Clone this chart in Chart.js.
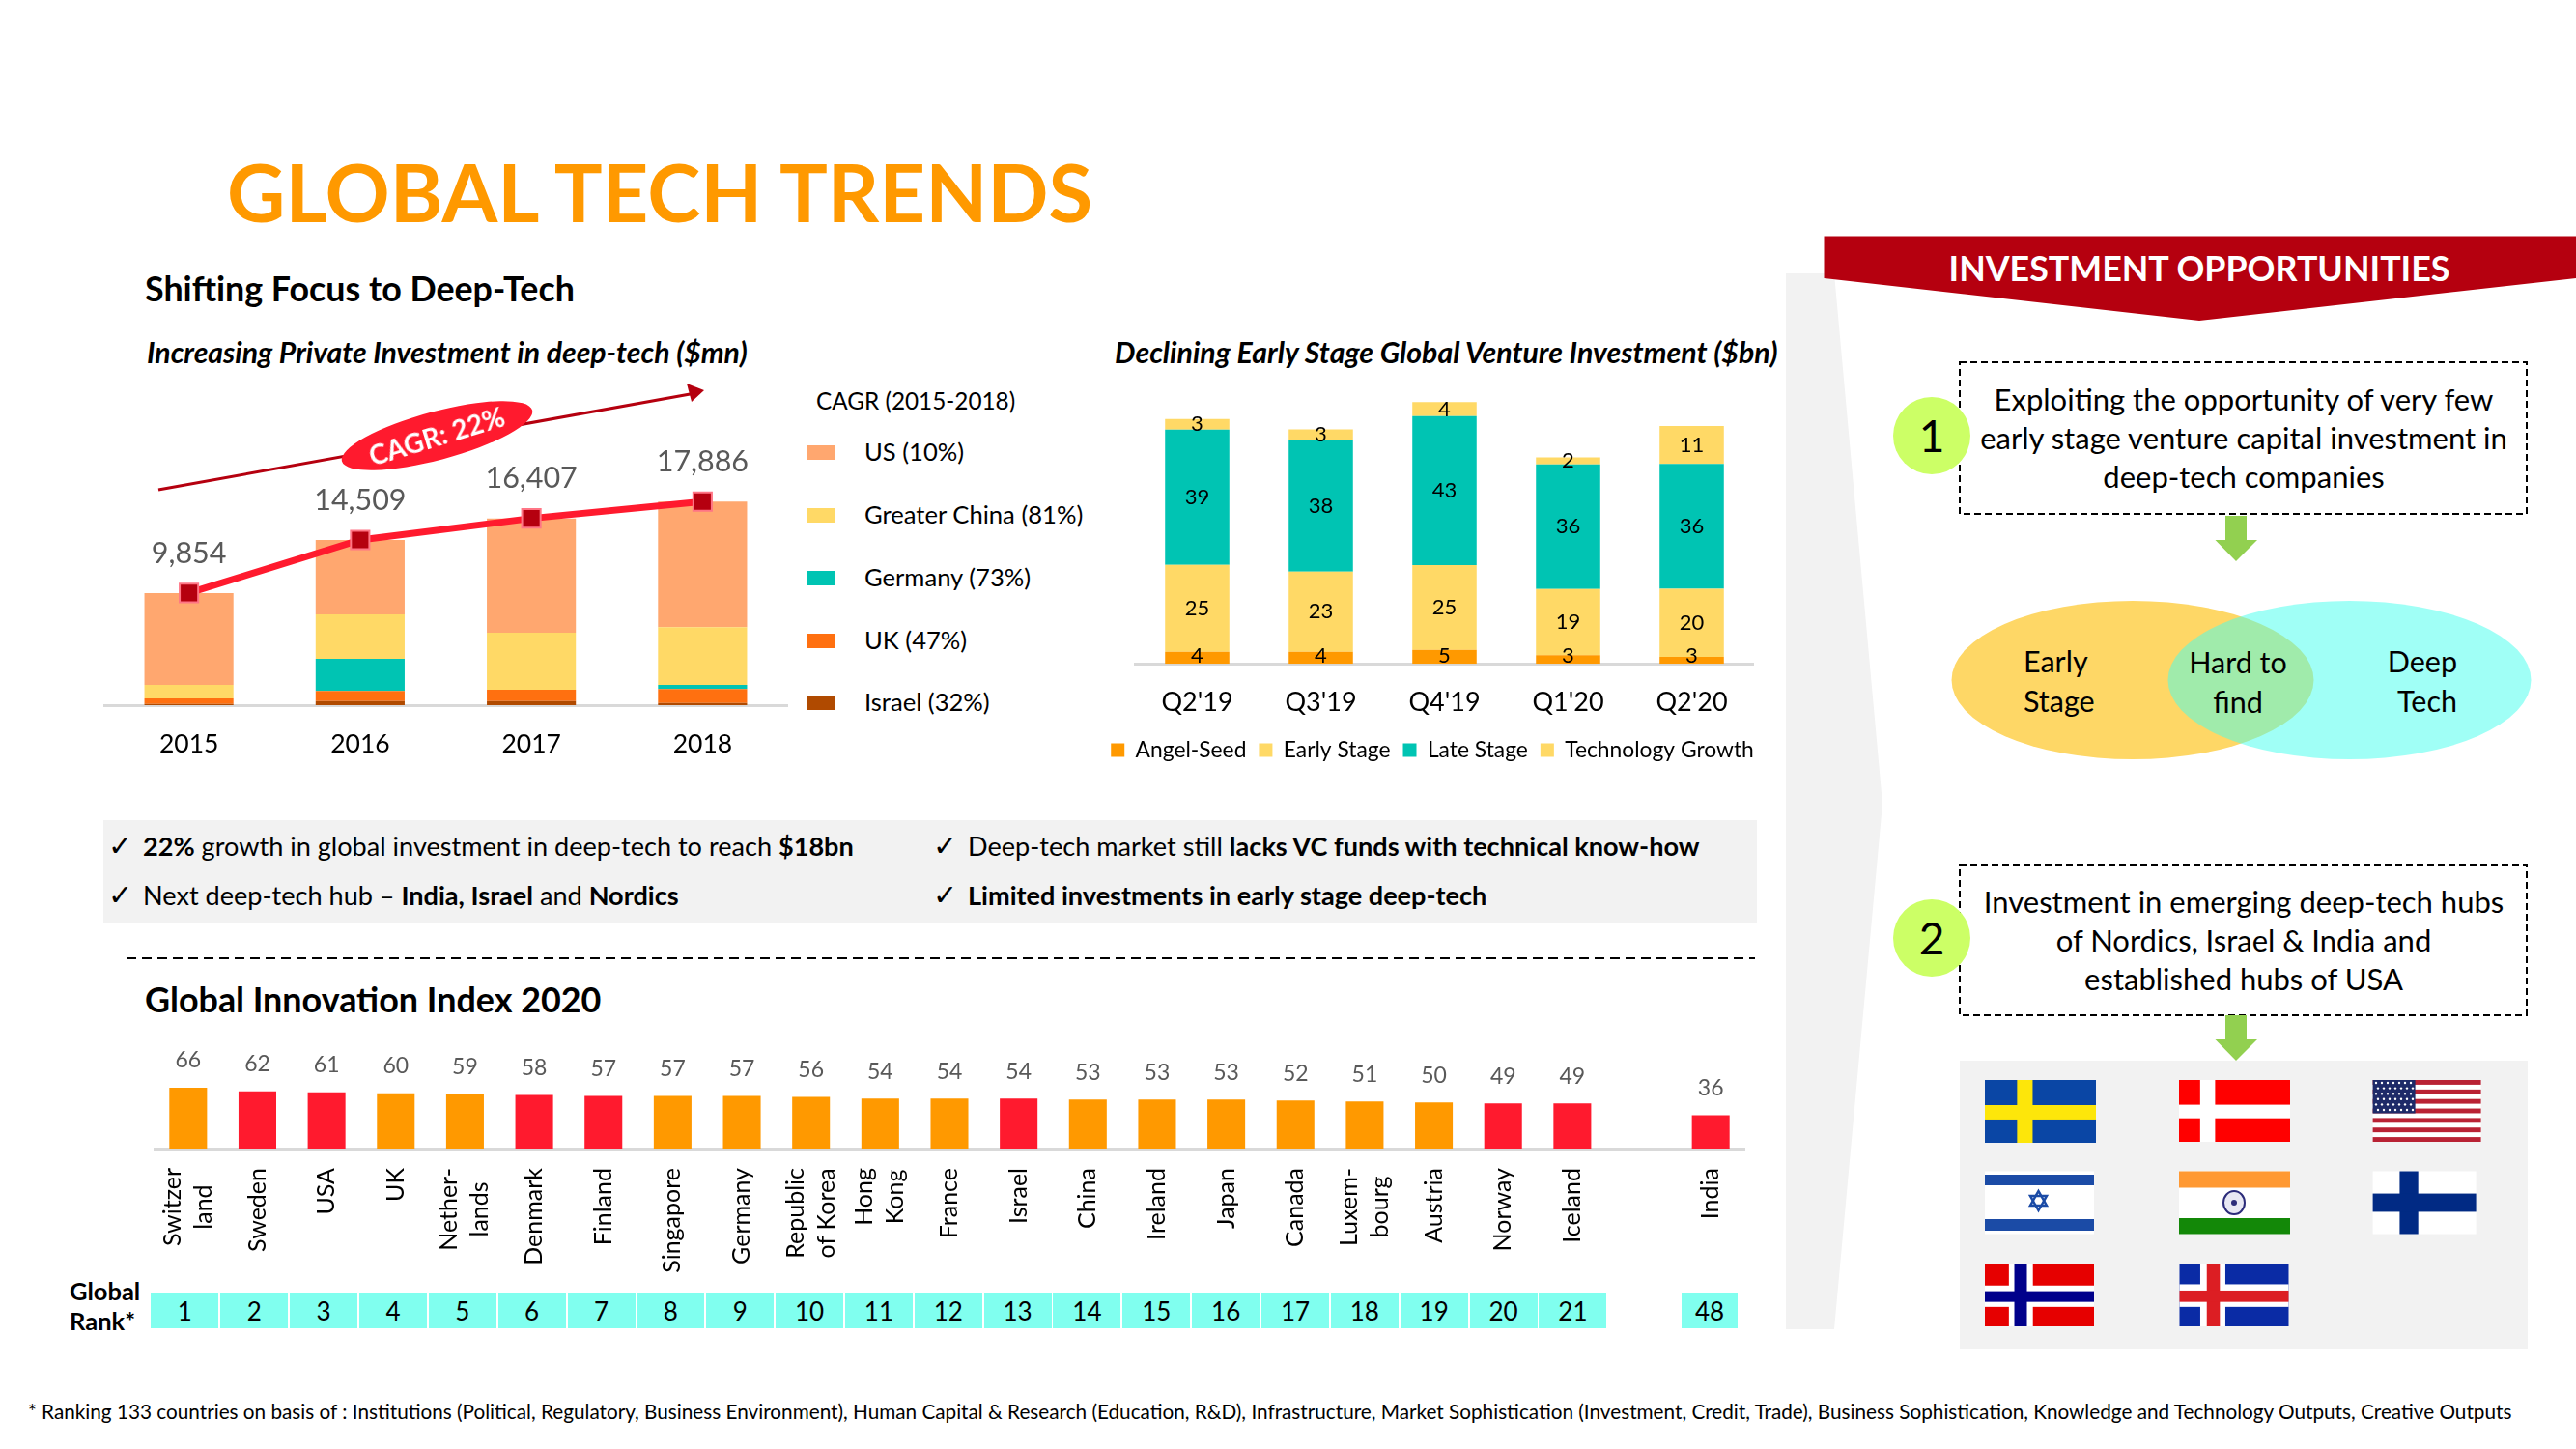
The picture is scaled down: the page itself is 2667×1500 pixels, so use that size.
<!DOCTYPE html>
<html><head><meta charset="utf-8">
<script src="https://cdn.jsdelivr.net/npm/chart.js@4"></script>
<style>
html,body{margin:0;padding:0;background:#fff;}
#page{position:relative;width:2667px;height:1500px;overflow:hidden;font-family:Lato,"Open Sans",sans-serif;color:#000;}
#page svg{position:absolute;left:0;top:0;}
canvas{position:absolute;}
.t{position:absolute;white-space:nowrap;line-height:1;}
</style></head><body><div id="page">
<svg id="deco" width="2667" height="1500"></svg>
<canvas id="c1" width="709" height="400" style="left:107px;top:400px"></canvas>
<canvas id="c2" width="720" height="403" style="left:1122.5px;top:395px"></canvas>
<canvas id="c3" width="1648" height="250" style="left:159px;top:1080px"></canvas>
</div>
<script>
// ---- data ----
const years = ['2015','2016','2017','2018'];
const israel = [113,368,368,198];
const uk = [480,877,990,1216];
const germany = [0,2828,0,368];
const greaterChina = [1190,3903,5006,5062];
const us = [8070,6533,10043,11042];
const totals = [9854,14509,16407,17886];
const cagrLegend = ['US (10%)','Greater China (81%)','Germany (73%)','UK (47%)','Israel (32%)'];

const quarters = ["Q2'19","Q3'19","Q4'19","Q1'20","Q2'20"];
const angelSeed = [3.5,3.5,4,2.5,2];
const earlyStage = [25.1,23.1,24.5,19.1,19.7];
const lateStage = [39,38,43,36,36];
const techGrowth = [3.1,3.1,4.1,2,11];
const angelLabels = [4,4,5,3,3];
const earlyLabels = [25,23,25,19,20];
const lateLabels = [39,38,43,36,36];
const techLabels = [3,3,4,2,11];

const countries = [['Switzer','land'],'Sweden','USA','UK',['Nether-','lands'],'Denmark','Finland','Singapore','Germany',['Republic','of Korea'],['Hong','Kong'],'France','Israel','China','Ireland','Japan','Canada',['Luxem-','bourg'],'Austria','Norway','Iceland','','India'];
const giiScores = [66,62,61,60,59,58,57,57,57,56,54,54,54,53,53,53,52,51,50,49,49,null,36];
const globalRanks = [1,2,3,4,5,6,7,8,9,10,11,12,13,14,15,16,17,18,19,20,21];
const indiaRank = 48;
const hubCountries = ['Sweden','USA','Denmark','Finland','Israel','Norway','Iceland','India'];

// ---- palette ----
const ORANGE='#FF9900', RED='#FF1A2E', DARKRED='#B5000F', GREY='#595959', AXIS='#D9D9D9', TEAL='#00C4B3', YELLOW='#FFD966';
const cagrColors = ['#FFA76F',YELLOW,TEAL,'#FF7010','#B04A00'];

Chart.defaults.font.family = 'Lato, "Open Sans", sans-serif';
Chart.defaults.color = '#000';

const valueLabels = {
  id:'valueLabels',
  afterDatasetsDraw(chart){
    const ctx = chart.ctx, base = chart.chartArea.bottom;
    chart.data.datasets.forEach((ds,di)=>{
      const vl = ds.valueLabels; if(!vl) return;
      const meta = chart.getDatasetMeta(di);
      ctx.save();
      ctx.font = vl.font; ctx.fillStyle = vl.color; ctx.textAlign='center'; ctx.textBaseline='middle';
      meta.data.forEach((el,i)=>{
        if(ds.data[i]===null || ds.data[i]===undefined) return;
        const txt = vl.texts ? vl.texts[i] : ds.data[i].toLocaleString('en-US');
        let y;
        if(vl.mode==='center'){ y=(el.y+el.base)/2; if(vl.minLift) y=Math.min(y,base-vl.minLift); }
        else y = el.y - vl.offset;
        ctx.fillText(txt, el.x, y);
      });
      ctx.restore();
    });
  }
};
const centerTickLines = {
  id:'centerTickLines',
  beforeDraw(chart){
    const s = chart.scales.x, ctx = chart.ctx;
    const lh = 32;
    ctx.save(); ctx.font = `${s.options.ticks.font.size}px Lato`;
    s.getLabelItems().forEach(it=>{
      if(!Array.isArray(it.label) || it._done) return;
      const w = Math.max(...it.label.map(l=>ctx.measureText(l).width));
      it.options.textAlign='center';
      it.options.textBaseline='middle';
      it.options.translation = [s.getPixelForTick(s.ticks.findIndex(t=>t.label===it.label)), it.options.translation[1]+w/2];
      it.textOffset = -(it.label.length-1)*lh/2;
      it.font = Object.assign({},it.font,{lineHeight:lh});
      it._done = true;
    });
    ctx.restore();
  }
};
const base = {responsive:false,devicePixelRatio:1,animation:false,plugins:{legend:{display:false},tooltip:{enabled:false}}};
const fixX = h => s => { s.height=h; s.paddingLeft=0; s.paddingRight=0; };

// Chart 1
const barOpts = {barPercentage:.52,categoryPercentage:1,order:2,stack:'a'};
new Chart(document.getElementById('c1'),{
  type:'bar',
  data:{labels:years,datasets:[
    {label:'Israel',data:israel,backgroundColor:cagrColors[4],...barOpts},
    {label:'UK',data:uk,backgroundColor:cagrColors[3],...barOpts},
    {label:'Germany',data:germany,backgroundColor:cagrColors[2],...barOpts},
    {label:'Greater China',data:greaterChina,backgroundColor:cagrColors[1],...barOpts},
    {label:'US',data:us,backgroundColor:cagrColors[0],...barOpts},
    {type:'line',label:'Total',data:totals,order:1,borderColor:RED,borderWidth:7,pointStyle:'rect',pointRadius:13.5,
     pointBackgroundColor:DARKRED,pointBorderColor:'#FF7585',pointBorderWidth:2,tension:0,
     valueLabels:{offset:41,font:'30.5px Lato',color:GREY}}
  ]},
  options:{...base,layout:{padding:0,autoPadding:false},
    scales:{
      x:{stacked:true,grid:{display:false},border:{color:AXIS,width:3},afterFit:fixX(70),
         ticks:{font:{size:26.5},padding:17,color:'#000',maxRotation:0}},
      y:{stacked:true,display:false,min:0,max:28000}
    }},
  plugins:[valueLabels]
});

// Chart 2
const b2 = {barPercentage:.52,categoryPercentage:1};
const lbl2 = (texts,minLift)=>({mode:'center',texts,minLift,font:'22px Lato',color:'#000'});
const blankAxis = w => ({display:true,min:0,max:81.5,ticks:{display:false},grid:{display:false},border:{display:false},afterFit:s=>{s.width=w;}});
new Chart(document.getElementById('c2'),{
  type:'bar',
  data:{labels:quarters,datasets:[
    {label:'Angel-Seed',data:angelSeed,backgroundColor:ORANGE,...b2,valueLabels:lbl2(angelLabels,8)},
    {label:'Early Stage',data:earlyStage,backgroundColor:YELLOW,...b2,valueLabels:lbl2(earlyLabels)},
    {label:'Late Stage',data:lateStage,backgroundColor:TEAL,...b2,valueLabels:lbl2(lateLabels)},
    {label:'Technology Growth',data:techGrowth,backgroundColor:YELLOW,...b2,valueLabels:lbl2(techLabels)}
  ]},
  options:{...base,layout:{padding:0,autoPadding:false},
    plugins:{tooltip:{enabled:false},legend:{display:true,position:'bottom',
      labels:{boxWidth:14,boxHeight:14,padding:13,font:{size:22.8},color:'#000'}}},
    scales:{
      x:{stacked:true,grid:{display:false},border:{color:AXIS,width:3},afterFit:fixX(65),
         ticks:{font:{size:27},padding:16,color:'#000',maxRotation:0}},
      y:{stacked:true,...blankAxis(52.5)},
      y1:{position:'right',...blankAxis(27.5)}
    }},
  plugins:[valueLabels]
});

// Chart 3
new Chart(document.getElementById('c3'),{
  type:'bar',
  data:{labels:countries,datasets:[{label:'Global Innovation Index 2020',data:giiScores,
    backgroundColor:c=>hubCountries.includes(countries[c.dataIndex])?RED:ORANGE,
    barPercentage:.545,categoryPercentage:1,
    valueLabels:{offset:28,font:'23px Lato',color:GREY}}]},
  options:{...base,layout:{padding:0,autoPadding:false},
    scales:{
      x:{grid:{display:false},border:{color:AXIS,width:3},afterFit:fixX(141),
         ticks:{autoSkip:false,minRotation:90,maxRotation:90,padding:12,font:{size:25},color:'#000'}},
      y:{display:false,min:0,max:114}
    }},
  plugins:[valueLabels,centerTickLines]
});

// ---- page furniture ----
const page = document.getElementById('page');
function T(html,x,y,o={}){
  const d=document.createElement('div'); d.className='t'; d.innerHTML=html;
  const a=o.align||'left';
  const tx=a==='center'?'-50%':a==='right'?'-100%':'0';
  d.style.cssText=`left:${x}px;top:${y}px;font-size:${o.size||26}px;font-weight:${o.weight||400};color:${o.color||'#000'};font-style:${o.italic?'italic':'normal'};transform:translate(${tx},-50%) ${o.rot?`rotate(${o.rot}deg)`:''};z-index:3;`;
  page.appendChild(d); return d;
}
T('GLOBAL TECH TRENDS',235,199,{size:83.2,weight:700,color:ORANGE});
T('Shifting Focus to Deep-Tech',150,299,{size:35.8,weight:700});
T('Increasing Private Investment in deep-tech ($mn)',152,363.5,{size:30.2,weight:700,italic:true});
T('Declining Early Stage Global Venture Investment ($bn)',1154,363.5,{size:30.3,weight:700,italic:true});
T('CAGR (2015-2018)',845,415,{size:24.3});
const legendY=[468,533,598,663,727];
cagrLegend.forEach((l,i)=>{
  const s=document.createElement('div');
  s.style.cssText=`position:absolute;left:835px;top:${legendY[i]-7}px;width:30px;height:15px;background:${cagrColors[i]}`;
  page.appendChild(s);
  T(l,895,legendY[i],{size:25.6});
});
T('CAGR: 22%',452,451,{size:28,weight:700,color:'#fff',rot:-17,align:'center'});

// bullets
[[112,148,876,'<b>22%</b> growth in global investment in deep-tech to reach <b>$18bn</b>'],
 [112,148,927,'Next deep-tech hub – <b>India, Israel</b> and <b>Nordics</b>'],
 [966,1002,876,'Deep-tech market still <b>lacks VC funds with technical know-how</b>'],
 [966,1002,927,'<b>Limited investments in early stage deep-tech</b>']
].forEach(r=>{T('✓',r[0],r[2]-2,{size:30});T(r[3],r[1],r[2],{size:27.1});});
T('Global Innovation Index 2020',150,1035,{size:35.9,weight:700});
T('Global',72,1337,{size:25.5,weight:700});
T('Rank*',72,1368,{size:25.5,weight:700});
const cell=(x,w,txt)=>{
  const d=document.createElement('div');
  d.style.cssText=`position:absolute;left:${x}px;top:1339px;width:${w}px;height:36px;line-height:36px;background:#80FFEF;text-align:center;font-size:26px;z-index:2`;
  d.textContent=txt; page.appendChild(d);
};
globalRanks.forEach((r,i)=>cell(156.4+71.85*i,70,r));
cell(1741,58,indiaRank);
T('* Ranking 133 countries on basis of : Institutions (Political, Regulatory, Business Environment), Human Capital &amp; Research (Education, R&amp;D), Infrastructure, Market Sophistication (Investment, Credit, Trade), Business Sophistication, Knowledge and Technology Outputs, Creative Outputs',29,1461,{size:20.72});

T('INVESTMENT OPPORTUNITIES',2277,278,{size:35.8,weight:700,color:'#fff',align:'center'});
[['Exploiting the opportunity of very few',412.5],['early stage venture capital investment in',452.5],['deep-tech companies',492.5],
 ['Investment in emerging deep-tech hubs',933],['of Nordics, Israel &amp; India and',973],['established hubs of USA',1013]
].forEach(r=>T(r[0],2323,r[1],{size:31,align:'center'}));
T('1',2000,451,{size:46,align:'center'});
T('2',2000,971,{size:46,align:'center'});
T('Early',2095,684,{size:30.5});T('Stage',2095,725,{size:30.5});
T('Hard to',2317,685,{size:30.5,align:'center'});T('find',2317,726,{size:30.5,align:'center'});
T('Deep',2544,684,{size:30.5,align:'right'});T('Tech',2544,725,{size:30.5,align:'right'});

// ---- svg shapes ----
let s='';
s+=`<rect x="107" y="849" width="1712" height="107" fill="#F2F2F2"/>`;
s+=`<line x1="131" y1="992" x2="1817" y2="992" stroke="#000" stroke-width="2" stroke-dasharray="10 6"/>`;
s+=`<polygon points="1849,283 1899,283 1949,832 1899,1376 1849,1376" fill="#F2F2F2"/>`;
s+=`<polygon points="1888.5,244.5 2667,244.5 2667,288 2277,332 1888.5,288" fill="${DARKRED}"/>`;
// trend arrow
s+=`<line x1="164" y1="507" x2="720" y2="407" stroke="${DARKRED}" stroke-width="3"/>`;
s+=`<polygon points="729,404 711,397 716,416" fill="${DARKRED}"/>`;
s+=`<ellipse cx="452.5" cy="451" rx="102" ry="25" transform="rotate(-15 452.5 451)" fill="${RED}"/>`;
// boxes
for(const [y1,y2] of [[375,532],[895,1051]]) s+=`<rect x="2029" y="${y1}" width="587" height="${y2-y1}" fill="#fff" stroke="#000" stroke-width="2" stroke-dasharray="7 4"/>`;
s+=`<ellipse cx="2000" cy="451" rx="40" ry="40" fill="#CCFF66"/><ellipse cx="2000" cy="971" rx="40" ry="40" fill="#CCFF66"/>`;
const darrow=(t,m,b)=>`<polygon points="2304,${t} 2326,${t} 2326,${m} 2337,${m} 2315,${b} 2293.5,${m} 2304,${m}" fill="#92D050"/>`;
s+=darrow(534,559,581)+darrow(1051,1076,1098);
s+=`<ellipse cx="2208" cy="704" rx="187.5" ry="82" fill="#FED766"/><ellipse cx="2432.5" cy="704" rx="188" ry="82" fill="rgba(69,255,237,.51)"/>`;
s+=`<rect x="2029" y="1098" width="588" height="298" fill="#F2F2F2"/>`;
// flags
const R=(x,y,w,h,c)=>`<rect x="${x}" y="${y}" width="${w}" height="${h}" fill="${c}"/>`;
function nordic(x,y,w,h,bg,v1,v2,h1,h2,c1,vi1,vi2,hi1,hi2,c2){
  let o=R(x,y,w,h,bg)+R(x+w*v1,y,w*(v2-v1),h,c1)+R(x,y+h*h1,w,h*(h2-h1),c1);
  if(c2) o+=R(x+w*vi1,y,w*(vi2-vi1),h,c2)+R(x,y+h*hi1,w,h*(hi2-hi1),c2);
  return o;
}
s+=nordic(2055,1118,115,65,'#0A46A5',.29,.43,.40,.63,'#FDE60A');
s+=nordic(2256,1118,115,64,'#FF0000',.19,.325,.40,.62,'#FFFFFF');
// USA
s+=R(2456.6,1118,112,64,'#fff');
for(let i=0;i<7;i++) s+=R(2456.6,1118+i*9.85,112,4.9,'#B92234');
s+=R(2456.6,1118,44,34.5,'#1E2A68');
for(let r=0;r<6;r++)for(let c=0;c<7;c++) s+=`<circle cx="${2460+c*6+(r%2)*2}" cy="${1121+r*5.6}" r="1.2" fill="#fff"/>`;
// Israel
s+=R(2055,1212.5,113,65,'#fff')+R(2055,1216,113,11,'#1B4BA6')+R(2055,1262,113,12,'#1B4BA6');
s+=`<polygon points="2110.5,1233 2119,1248 2102,1248" fill="none" stroke="#1B4BA6" stroke-width="2.5"/><polygon points="2110.5,1253 2119,1238 2102,1238" fill="none" stroke="#1B4BA6" stroke-width="2.5"/>`;
// India
s+=R(2256,1212.5,115,65,'#fff')+R(2256,1212.5,115,17,'#FF9933')+R(2256,1261,115,16.5,'#138808');
s+=`<ellipse cx="2313" cy="1245" rx="11" ry="12" fill="#E8E8F4" stroke="#2C2C7A" stroke-width="2"/><circle cx="2313" cy="1245" r="3" fill="#2C2C7A"/>`;
s+=nordic(2456.6,1212.5,107,65,'#FFFFFF',.26,.44,.355,.645,'#012A84');
s+=nordic(2055,1308,113,65,'#E60000',.22,.44,.35,.69,'#FFFFFF',.27,.385,.44,.61,'#00008B');
s+=nordic(2256.5,1308,113,65,'#0A2BA5',.19,.42,.33,.69,'#FFFFFF',.25,.37,.43,.61,'#DC1E23');
document.getElementById('deco').innerHTML=s;
</script></body></html>
